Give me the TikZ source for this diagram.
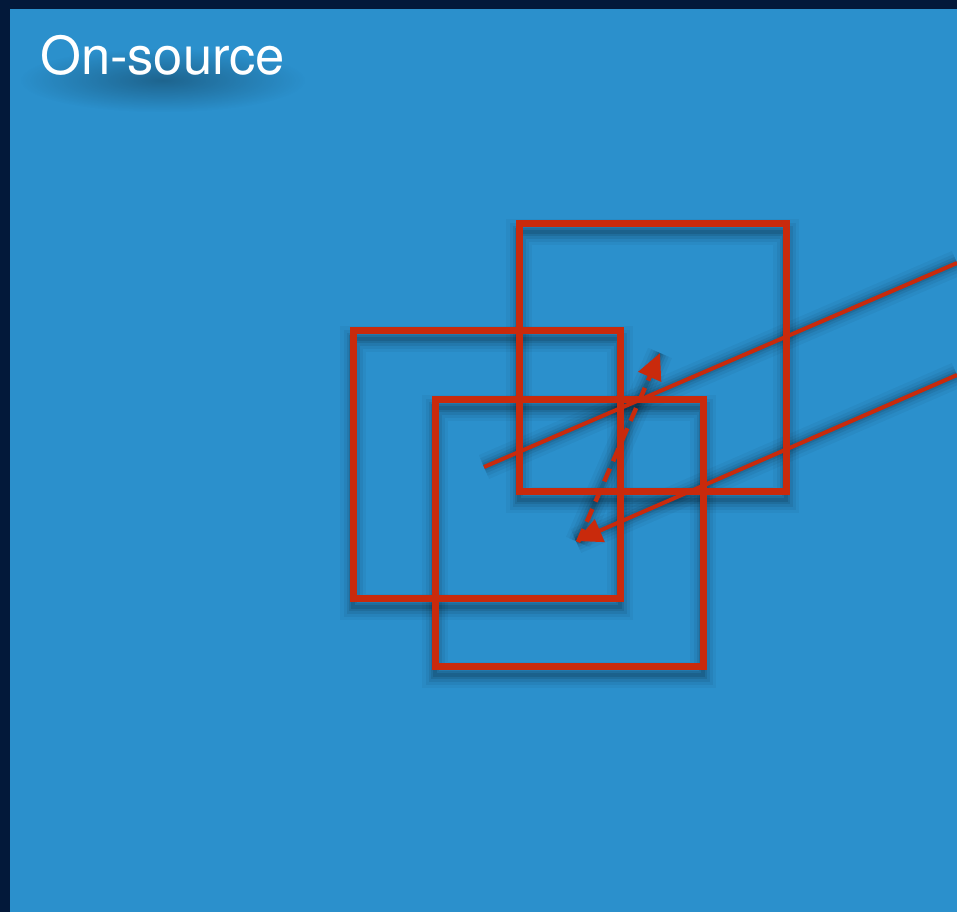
\documentclass[tikz,border=0pt]{standalone}
\usepackage{fontspec}
\setmainfont{TeX Gyre Heros}
\usetikzlibrary{arrows.meta,fadings}
\definecolor{navy}{HTML}{03193A}
\definecolor{bgblue}{HTML}{2B90CC}
\definecolor{redl}{HTML}{C92A0C}
\tikzfading[name=softblob, inner color=transparent!0, outer color=transparent!100]
\tikzset{
  sqbox/.style={draw=redl,line width=7pt,line join=miter},
  rline/.style={draw=redl,line width=4pt},
  rdash/.style={draw=redl,line width=4.5pt,dash pattern=on 14pt off 8pt},
  rtip/.style={-{Triangle[length=26pt,width=24pt,fill=redl]}},
  shd/.style={draw=black,opacity=#1},
  title/.style={font=\fontsize{52.5}{52.5}\selectfont,anchor=base west,inner sep=0pt}
}
\newcommand\mkshadow[1]{%
  \foreach \w/\o in {26/0.04,19/0.05,13/0.07,8/0.09,4/0.1}{%
    \draw[shd=\o,line width=\w pt,shift={(0,9)}] #1;}}
\begin{document}
\begin{tikzpicture}[x=1pt,y=-1pt]
\useasboundingbox (0,0) rectangle (957,912);
\fill[navy] (0,0) rectangle (957,912);
\fill[bgblue] (10,9) rectangle (957,912);
% coordinates
\coordinate (l1a) at (484,467);
\coordinate (l1b) at (957,263);
\coordinate (l2a) at (957,375);
\coordinate (tip2) at (576,541);
\coordinate (d0) at (578,542);
\coordinate (d1) at (660,353);
% shadows
\mkshadow{(519,223) rectangle (786,491)}
\mkshadow{(353,330) rectangle (620,598)}
\mkshadow{(435,399) rectangle (703,666)}
\mkshadow{(l1a) -- (l1b)}
\mkshadow{(l2a) -- (tip2)}
\mkshadow{(d0) -- (d1)}
\fill[black,opacity=0.3,path fading=softblob] (20,48) rectangle (305,112);
% title
\node[title,text=white] (ttl) at (40,75) {On-source};
% squares
\draw[sqbox] (519,223) rectangle (786,491);
\draw[sqbox] (353,330) rectangle (620,598);
\draw[sqbox] (435,399) rectangle (703,666);
% lines
\draw[rline] (l1a) -- (l1b);
\draw[rline,rtip] (l2a) -- (tip2);
\draw[rdash,rtip] (d0) -- (d1);
\end{tikzpicture}
\end{document}
